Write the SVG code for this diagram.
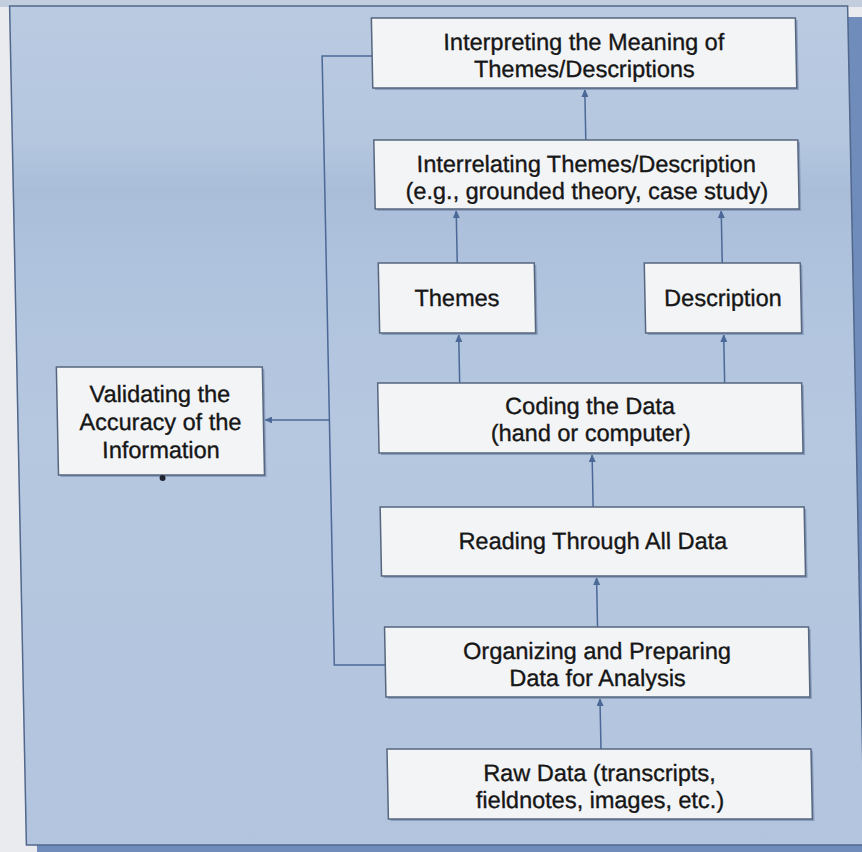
<svg xmlns="http://www.w3.org/2000/svg" width="862" height="852" viewBox="0 0 862 852">
  <defs>
    <linearGradient id="panelFill" x1="0" y1="0" x2="0" y2="1">
      <stop offset="0" stop-color="#b9cae1"/>
      <stop offset="0.16" stop-color="#b5c7df"/>
      <stop offset="0.22" stop-color="#a9bdd9"/>
      <stop offset="0.3" stop-color="#afc2dd"/>
      <stop offset="0.5" stop-color="#b6c8e0"/>
      <stop offset="1" stop-color="#b3c5de"/>
    </linearGradient>
    <marker id="arrow" markerUnits="userSpaceOnUse" markerWidth="9" markerHeight="7" refX="8" refY="3.5" orient="auto">
      <path d="M0,0 L8,3.5 L0,7 z" fill="#4b6896"/>
    </marker>
    <style>
      .box { fill: #f3f4f6; stroke: #56667f; stroke-width: 1.5; }
      .shadow { fill: #8a9dbd; }
      .label { font-family: "Liberation Sans", Arial, sans-serif; font-size: 23.5px; fill: #161616; stroke: #161616; stroke-width: 0.35; text-anchor: middle; }
      .conn { fill: none; stroke: #4b6896; stroke-width: 1.5; }
    </style>
  </defs>

  <!-- page around the panel -->
  <rect x="0" y="0" width="862" height="852" fill="#e9ebef"/>
  <rect x="0" y="0" width="862" height="7" fill="#c2cddd"/>

  <g transform="matrix(1 0 0.02 1 0 0)">
    <!-- panel -->
    <g id="panel">
      <rect x="20" y="17" width="845" height="850" fill="#6f8cbb"/>
      <rect x="9.5" y="6" width="838" height="839" fill="url(#panelFill)" stroke="#51678c" stroke-width="1.5"/>
    </g>

    <!-- connectors -->
    <g id="connectors">
      <line class="conn" x1="583" y1="140" x2="583" y2="89" marker-end="url(#arrow)"/>
      <line class="conn" x1="452" y1="263" x2="452" y2="210" marker-end="url(#arrow)"/>
      <line class="conn" x1="717" y1="263" x2="717" y2="210" marker-end="url(#arrow)"/>
      <line class="conn" x1="452" y1="383" x2="452" y2="334" marker-end="url(#arrow)"/>
      <line class="conn" x1="717" y1="383" x2="717" y2="334" marker-end="url(#arrow)"/>
      <line class="conn" x1="583" y1="507" x2="583" y2="454" marker-end="url(#arrow)"/>
      <line class="conn" x1="585" y1="627" x2="585" y2="577" marker-end="url(#arrow)"/>
      <line class="conn" x1="586" y1="749" x2="586" y2="698" marker-end="url(#arrow)"/>
      <path class="conn" d="M372,665 H321 V56 H371"/>
      <line class="conn" x1="321" y1="420" x2="256" y2="420" marker-end="url(#arrow)"/>
    </g>

    <g id="interpreting">
      <rect class="shadow" x="373" y="20" width="424" height="70"/>
      <rect class="box" x="371" y="18" width="424" height="70"/>
      <text class="label" x="583" y="50">Interpreting the Meaning of</text>
      <text class="label" x="583" y="77">Themes/Descriptions</text>
    </g>

    <g id="interrelating">
      <rect class="shadow" x="373" y="142" width="424" height="69"/>
      <rect class="box" x="371" y="140" width="424" height="69"/>
      <text class="label" x="583" y="172">Interrelating Themes/Description</text>
      <text class="label" x="583" y="199">(e.g., grounded theory, case study)</text>
    </g>

    <g id="themes">
      <rect class="shadow" x="375" y="265" width="156" height="70"/>
      <rect class="box" x="373" y="263" width="156" height="70"/>
      <text class="label" x="451" y="306">Themes</text>
    </g>

    <g id="description">
      <rect class="shadow" x="641" y="265" width="156" height="70"/>
      <rect class="box" x="639" y="263" width="156" height="70"/>
      <text class="label" x="717" y="306">Description</text>
    </g>

    <g id="coding">
      <rect class="shadow" x="372" y="385" width="424" height="70"/>
      <rect class="box" x="370" y="383" width="424" height="70"/>
      <text class="label" x="582" y="414">Coding the Data</text>
      <text class="label" x="582" y="441">(hand or computer)</text>
    </g>

    <g id="reading">
      <rect class="shadow" x="372" y="509" width="424" height="69"/>
      <rect class="box" x="370" y="507" width="424" height="69"/>
      <text class="label" x="582" y="549">Reading Through All Data</text>
    </g>

    <g id="organizing">
      <rect class="shadow" x="374" y="629" width="424" height="70"/>
      <rect class="box" x="372" y="627" width="424" height="70"/>
      <text class="label" x="584" y="659">Organizing and Preparing</text>
      <text class="label" x="584" y="686">Data for Analysis</text>
    </g>

    <g id="raw-data">
      <rect class="shadow" x="374" y="751" width="424" height="70"/>
      <rect class="box" x="372" y="749" width="424" height="70"/>
      <text class="label" x="584" y="781">Raw Data (transcripts,</text>
      <text class="label" x="584" y="808">fieldnotes, images, etc.)</text>
    </g>

    <g id="validating">
      <rect class="shadow" x="51" y="369" width="206" height="108"/>
      <rect class="box" x="49" y="367" width="206" height="108"/>
      <text class="label" x="152" y="402">Validating the</text>
      <text class="label" x="152" y="430">Accuracy of the</text>
      <text class="label" x="152" y="458">Information</text>
      <circle cx="153" cy="478" r="3" fill="#1e2430"/>
    </g>
  </g>
</svg>
